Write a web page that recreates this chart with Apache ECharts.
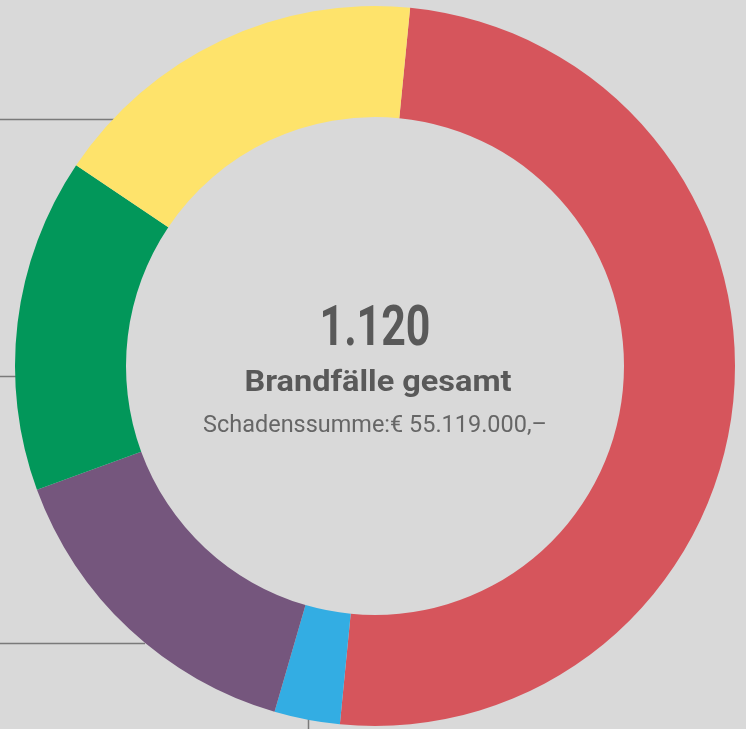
<!DOCTYPE html>
<html>
<head>
<meta charset="utf-8">
<script src="https://cdn.jsdelivr.net/npm/echarts@6/dist/echarts.min.js"></script>
<style>
  html, body { margin: 0; padding: 0; background: #d9d9d9; }
  #main { width: 746px; height: 729px; }
</style>
</head>
<body>
<div id="main"></div>
<script>
// Brandfälle nach Kategorie (Werte aus dem Bild geschätzt)
let categories = ["A", "B", "C", "D", "E"];
let values = [560, 33, 167, 168, 192];
let colors = ["#d6555c", "#33ade3", "#75567d", "#02975a", "#fee36b"];

let total = "1.120";
let subtitle = "Brandfälle gesamt";
let summe = "Schadenssumme:€ 55.119.000,–";

let myChart = echarts.init(document.getElementById("main"), null, {
  renderer: "canvas",
});

let lineStyle = { stroke: "#7a7a7a", lineWidth: 1.5 };

let option = {
  backgroundColor: "#d9d9d9",
  animation: false,
  graphic: [
    // Hinweislinien links
    { type: "line", shape: { x1: 0, y1: 119.5, x2: 114, y2: 119.5 }, style: lineStyle, z: 0 },
    { type: "line", shape: { x1: 0, y1: 376.5, x2: 16, y2: 376.5 }, style: lineStyle, z: 0 },
    { type: "line", shape: { x1: 0, y1: 643.5, x2: 145, y2: 643.5 }, style: lineStyle, z: 0 },
    { type: "line", shape: { x1: 308.5, y1: 715, x2: 308.5, y2: 729 }, style: lineStyle, z: 0 },
    // Text in der Mitte (schmal gestaucht wie DIN)
    {
      type: "text", x: 375, y: 331, scaleX: 0.78,
      style: {
        text: total, align: "center", verticalAlign: "middle",
        fontSize: 55, fontWeight: "bold", fontFamily: "Roboto, sans-serif",
        fill: "#595959",
      },
    },
    {
      type: "text", x: 378, y: 384, scaleX: 1.12,
      style: {
        text: subtitle, align: "center", verticalAlign: "middle",
        fontSize: 29, fontWeight: "bold", fontFamily: "Roboto, sans-serif",
        fill: "#595959",
      },
    },
    {
      type: "text", x: 375, y: 426, scaleX: 1.02,
      style: {
        text: summe, align: "center", verticalAlign: "middle",
        fontSize: 23, fontFamily: "Roboto, sans-serif",
        fill: "#666666",
      },
    },
  ],
  series: [
    {
      type: "pie",
      center: [375, 366],
      radius: [249, 360],
      startAngle: 84.4,
      clockwise: true,
      label: { show: false },
      labelLine: { show: false },
      emphasis: { disabled: true },
      itemStyle: { borderWidth: 0 },
      data: categories.map((c, i) => ({
        name: c,
        value: values[i],
        itemStyle: { color: colors[i] },
      })),
      z: 2,
    },
  ],
};

myChart.setOption(option);
</script>
</body>
</html>
